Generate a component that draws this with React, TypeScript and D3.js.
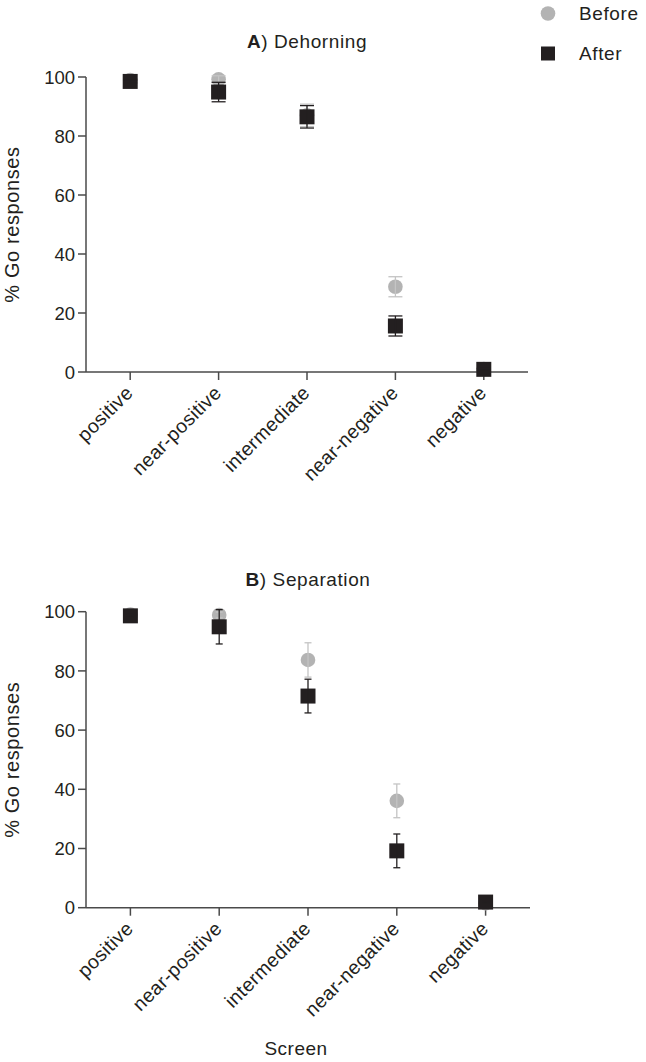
import React from "react";
import * as d3 from "d3";

const categories = ["positive", "near-positive", "intermediate", "near-negative", "negative"];
const yTicks = [0, 20, 40, 60, 80, 100];

const dehorningBefore = [99, 99.2, 87, 28.9, 1];
const dehorningBeforeErr = [0.5, 1.2, 3.8, 3.4, 0.3];
const dehorningAfter = [98.5, 94.9, 86.5, 15.6, 0.9];
const dehorningAfterErr = [0.5, 3.3, 3.8, 3.4, 0.3];

const separationBefore = [99, 98.9, 83.7, 36.1, 1.5];
const separationBeforeErr = [0.5, 1.0, 5.8, 5.7, 0.3];
const separationAfter = [98.6, 94.9, 71.5, 19.2, 1.9];
const separationAfterErr = [0.5, 5.8, 5.7, 5.7, 0.3];

const GRAY = "#b3b3b3";
const GRAY_ERR = "#c4c4c4";
const BLACK = "#231f20";
const AXIS = "#4a4a4a";
const FONT = "'Liberation Sans', Arial, Helvetica, sans-serif";

type PanelProps = {
  title: string;
  letter: string;
  top: number;
  bottom: number;
  left: number;
  right: number;
  titleY: number;
  before: number[];
  beforeErr: number[];
  after: number[];
  afterErr: number[];
  capW: number;
};

function Panel(p: PanelProps) {
  const x = d3.scalePoint<string>().domain(categories).range([p.left, p.right]).padding(0.5);
  const y = d3.scaleLinear().domain([0, 100]).range([p.bottom, p.top]);
  const sq = 15;
  const r = 7.3;
  const errBar = (vals: number[], errs: number[], color: string, key: string) =>
    categories.map((c, i) => {
      const cx = x(c)!;
      const y1 = y(vals[i] + errs[i]);
      const y2 = y(vals[i] - errs[i]);
      return (
        <g key={key + i} stroke={color} strokeWidth={1.3}>
          <line x1={cx} x2={cx} y1={y1} y2={y2} />
          <line x1={cx - p.capW / 2} x2={cx + p.capW / 2} y1={y1} y2={y1} />
          <line x1={cx - p.capW / 2} x2={cx + p.capW / 2} y1={y2} y2={y2} />
        </g>
      );
    });
  return (
    <g>
      <text
        x={(p.left + p.right) / 2}
        y={p.titleY}
        textAnchor="middle"
        fontSize={19}
        letterSpacing={0.6}
        fill={BLACK}
      >
        <tspan fontWeight="bold">{p.letter}</tspan>
        <tspan>{") " + p.title}</tspan>
      </text>
      {/* y axis */}
      <line x1={p.left} x2={p.left} y1={y(100)} y2={y(0)} stroke={AXIS} strokeWidth={1.5} />
      {yTicks.map((t) => (
        <g key={"yt" + t}>
          <line x1={p.left - 8} x2={p.left} y1={y(t)} y2={y(t)} stroke={AXIS} strokeWidth={1.5} />
          <text
            x={p.left - 11}
            y={y(t)}
            dy="0.36em"
            textAnchor="end"
            fontSize={18.5}
            fill={BLACK}
          >
            {t}
          </text>
        </g>
      ))}
      {/* x axis */}
      <line x1={p.left} x2={p.right} y1={y(0)} y2={y(0)} stroke={AXIS} strokeWidth={1.5} />
      {categories.map((c) => (
        <g key={"xt" + c}>
          <line x1={x(c)} x2={x(c)} y1={y(0)} y2={y(0) + 8} stroke={AXIS} strokeWidth={1.5} />
          <text
            transform={`translate(${x(c)! + 4},${y(0) + 22}) rotate(-45)`}
            textAnchor="end"
            fontSize={19.5}
            letterSpacing={0.4}
            fill={BLACK}
          >
            {c}
          </text>
        </g>
      ))}
      <text
        transform={`translate(19,${(p.top + p.bottom) / 2}) rotate(-90)`}
        textAnchor="middle"
        fontSize={20}
        letterSpacing={0.6}
        fill={BLACK}
      >
        % Go responses
      </text>
      {/* markers */}
      {categories.map((c, i) => (
        <circle key={"b" + i} cx={x(c)} cy={y(p.before[i])} r={r} fill={GRAY} />
      ))}
      {errBar(p.before, p.beforeErr, GRAY_ERR, "be")}
      {categories.map((c, i) => (
        <rect
          key={"a" + i}
          x={x(c)! - sq / 2}
          y={y(p.after[i]) - sq / 2}
          width={sq}
          height={sq}
          fill={BLACK}
        />
      ))}
      {errBar(p.after, p.afterErr, BLACK, "ae")}
    </g>
  );
}

export default function App() {
  return (
    <svg
      width={646}
      height={1062}
      style={{ position: "absolute", left: 0, top: 0, background: "#fff" }}
      fontFamily={FONT}
    >
      <rect width={646} height={1062} fill="#fff" />
      {/* legend */}
      <circle cx={548} cy={13.5} r={7.3} fill={GRAY} />
      <text x={579} y={20} fontSize={19} letterSpacing={0.6} fill={BLACK}>
        Before
      </text>
      <rect x={541} y={46.5} width={14} height={14} fill={BLACK} />
      <text x={579} y={60} fontSize={19} letterSpacing={0.6} fill={BLACK}>
        After
      </text>
      <Panel
        title="Dehorning"
        letter="A"
        top={77}
        bottom={372}
        left={86}
        right={528}
        titleY={48}
        before={dehorningBefore}
        beforeErr={dehorningBeforeErr}
        after={dehorningAfter}
        afterErr={dehorningAfterErr}
        capW={14}
      />
      <Panel
        title="Separation"
        letter="B"
        top={611.7}
        bottom={907.7}
        left={86}
        right={530}
        titleY={586}
        before={separationBefore}
        beforeErr={separationBeforeErr}
        after={separationAfter}
        afterErr={separationAfterErr}
        capW={7}
      />
      <text x={296} y={1055} textAnchor="middle" fontSize={19} letterSpacing={0.5} fill={BLACK}>
        Screen
      </text>
    </svg>
  );
}
